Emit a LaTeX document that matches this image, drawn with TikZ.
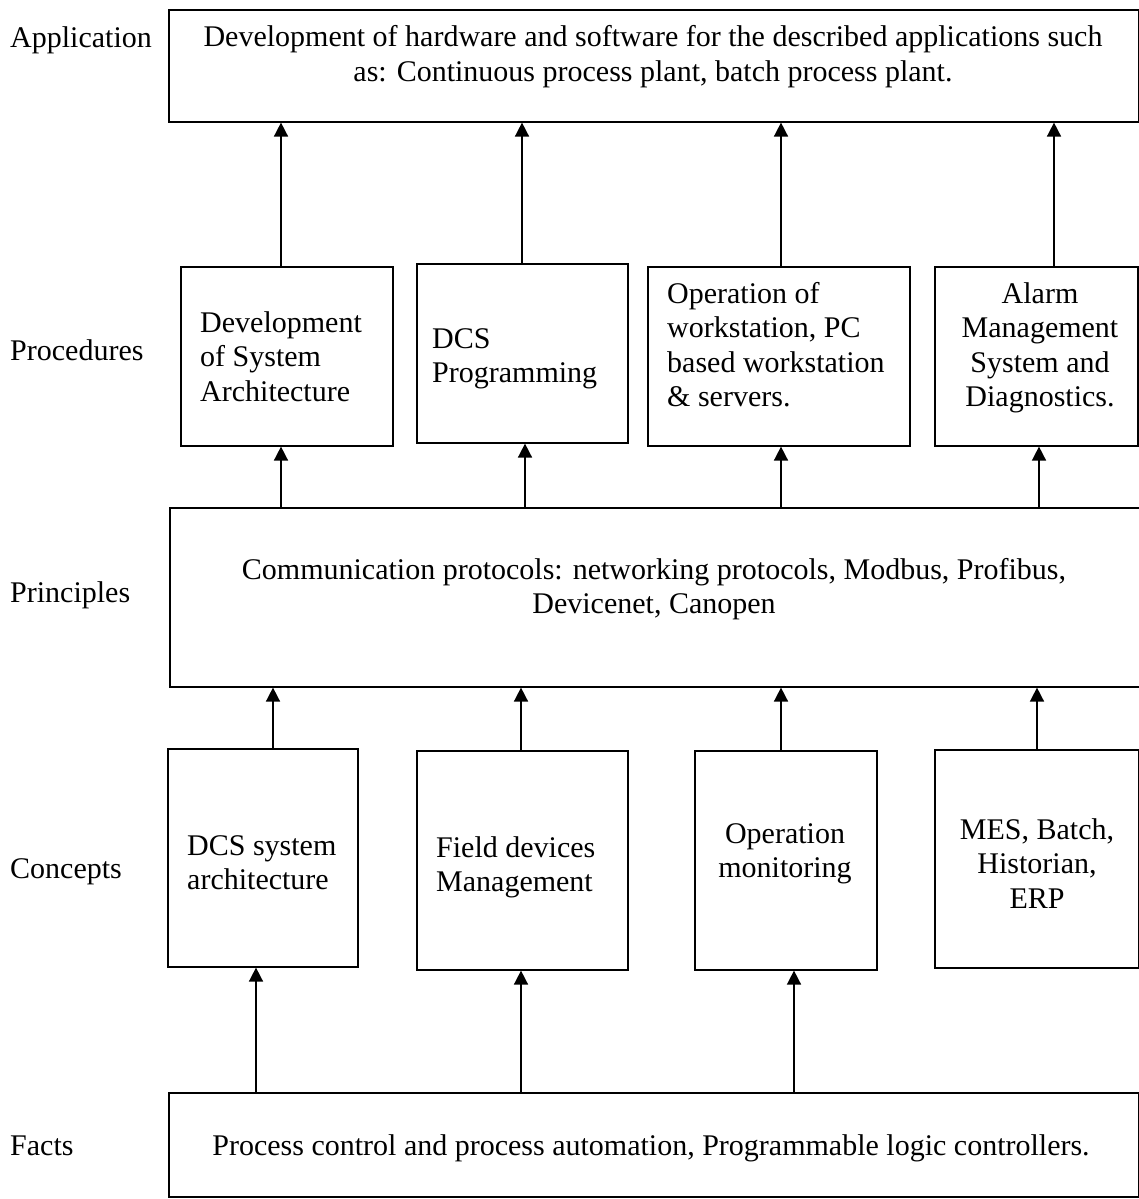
\documentclass[tikz,border=0pt]{standalone}
\usepackage{fontspec}
\setmainfont{Liberation Serif}
\usetikzlibrary{arrows.meta}
\newcommand\ML[2]{\begin{tabular}[t]{@{}#1@{}}#2\end{tabular}}
\begin{document}
\begin{tikzpicture}[x=1pt,y=-1pt,
  box/.style={draw, line width=1.6pt, inner sep=0pt, anchor=north west},
  txt/.style={font=\fontsize{30}{34.5}\selectfont, inner sep=0pt},
  arr/.style={line width=1.6pt, -{Triangle[length=14pt,width=14pt]}},
]
\useasboundingbox (0,0) rectangle (1139,1199);

% level labels
\node[txt, anchor=base west] (lapp) at (10,48)   {Application};
\node[txt, anchor=base west] (lpro) at (10,360)  {Procedures};
\node[txt, anchor=base west] (lpri) at (10,602)  {Principles};
\node[txt, anchor=base west] (lcon) at (10,878)  {Concepts};
\node[txt, anchor=base west] (lfac) at (10,1155) {Facts};

% boxes
\node[box, minimum width=970pt, minimum height=112pt] (app) at (168,9) {};
\node[box, minimum width=212pt, minimum height=179pt] (p1) at (180,266) {};
\node[box, minimum width=211pt, minimum height=179pt] (p2) at (416,263) {};
\node[box, minimum width=262pt, minimum height=179pt] (p3) at (647,266) {};
\node[box, minimum width=203pt, minimum height=179pt] (p4) at (934,266) {};
\node[box, minimum width=972pt, minimum height=179pt] (pr) at (169,507) {};
\node[box, minimum width=190pt, minimum height=218pt] (c1) at (167,748) {};
\node[box, minimum width=211pt, minimum height=219pt] (c2) at (416,750) {};
\node[box, minimum width=182pt, minimum height=219pt] (c3) at (694,750) {};
\node[box, minimum width=204pt, minimum height=218pt] (c4) at (934,749) {};
\node[box, minimum width=970pt, minimum height=104pt] (fa) at (168,1092) {};

% texts
\node[txt, anchor=base] (tapp) at (653,47) {\ML{c}{Development of hardware and software for the described applications such\\as: Continuous process plant, batch process plant.}};
\node[txt, anchor=base west] (tp1) at (200,332) {\ML{l}{Development\\of System\\Architecture}};
\node[txt, anchor=base west] (tp2) at (432,348) {\ML{l}{DCS\\Programming}};
\node[txt, anchor=base west] (tp3) at (667,303) {\ML{l}{Operation of\\workstation, PC\\based workstation\\\& servers.}};
\node[txt, anchor=base] (tp4) at (1040,303) {\ML{c}{Alarm\\Management\\System and\\Diagnostics.}};
\node[txt, anchor=base] (tpr) at (654,579) {\ML{c}{Communication protocols: networking protocols, Modbus, Profibus,\\Devicenet, Canopen}};
\node[txt, anchor=base west] (tc1) at (187,855) {\ML{l}{DCS system\\architecture}};
\node[txt, anchor=base west] (tc2) at (436,857) {\ML{l}{Field devices\\Management}};
\node[txt, anchor=base] (tc3) at (785,843) {\ML{c}{Operation\\monitoring}};
\node[txt, anchor=base] (tc4) at (1037,839) {\ML{c}{MES, Batch,\\Historian,\\ERP}};
\node[txt, anchor=base] (tfa) at (651,1155) {Process control and process automation, Programmable logic controllers.};

% connectors: procedures -> application
\draw[arr] (281,0 |- p1.north) -- (281,0 |- app.south);
\draw[arr] (522,0 |- p2.north) -- (522,0 |- app.south);
\draw[arr] (781,0 |- p3.north) -- (781,0 |- app.south);
\draw[arr] (1054,0 |- p4.north) -- (1054,0 |- app.south);
% principles -> procedures
\draw[arr] (281,0 |- pr.north) -- (281,0 |- p1.south);
\draw[arr] (525,0 |- pr.north) -- (525,0 |- p2.south);
\draw[arr] (781,0 |- pr.north) -- (781,0 |- p3.south);
\draw[arr] (1039,0 |- pr.north) -- (1039,0 |- p4.south);
% concepts -> principles
\draw[arr] (273,0 |- c1.north) -- (273,0 |- pr.south);
\draw[arr] (521,0 |- c2.north) -- (521,0 |- pr.south);
\draw[arr] (781,0 |- c3.north) -- (781,0 |- pr.south);
\draw[arr] (1037,0 |- c4.north) -- (1037,0 |- pr.south);
% facts -> concepts
\draw[arr] (256,0 |- fa.north) -- (256,0 |- c1.south);
\draw[arr] (521,0 |- fa.north) -- (521,0 |- c2.south);
\draw[arr] (794,0 |- fa.north) -- (794,0 |- c3.south);
\end{tikzpicture}
\end{document}
